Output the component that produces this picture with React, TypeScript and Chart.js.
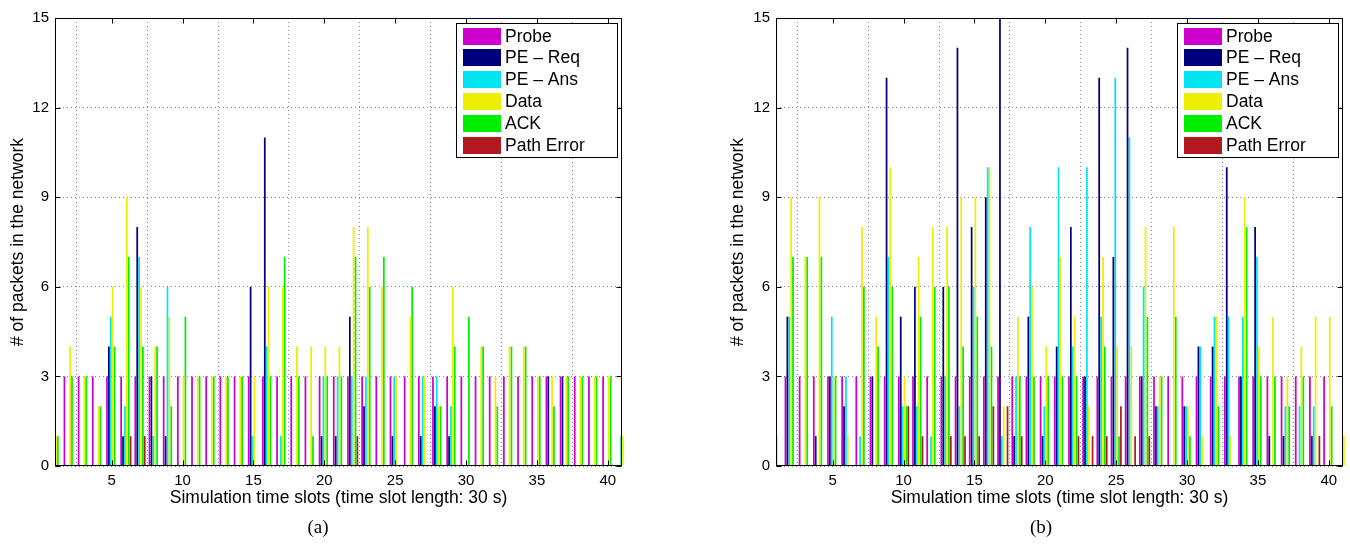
import React, { useEffect, useRef } from "react";
import { Chart, registerables } from "chart.js";

Chart.register(...registerables);

// ---------- data ----------
const SERIES_NAMES = ["Probe", "PE \u2013 Req", "PE \u2013 Ans", "Data", "ACK", "Path Error"];
const SERIES_COLORS = ["#cc00cc", "#00007f", "#00e5ef", "#eeee00", "#00ee00", "#b2191f"];

const SLOTS = [
  1, 2, 3, 4, 5, 6, 7, 8, 9, 10, 11, 12, 13, 14, 15, 16, 17, 18, 19, 20,
  21, 22, 23, 24, 25, 26, 27, 28, 29, 30, 31, 32, 33, 34, 35, 36, 37, 38, 39, 40, 41,
];
const X_TICKS = [5, 10, 15, 20, 25, 30, 35, 40];
const Y_TICKS = [0, 3, 6, 9, 12, 15];

// Panel (a)
const A_PROBE = [3, 3, 3, 3, 3, 3, 3, 3, 3, 3, 3, 3, 3, 3, 3, 3, 3, 3, 3, 3, 3, 3, 3, 3, 3, 3, 3, 3, 3, 3, 3, 3, 3, 3, 3, 3, 3, 3, 3, 3, 0];
const A_PE_REQ = [0, 0, 0, 0, 4, 1, 8, 3, 1, 0, 0, 0, 0, 0, 6, 11, 0, 0, 0, 1, 1, 5, 2, 0, 1, 0, 1, 2, 1, 0, 0, 0, 0, 0, 0, 3, 3, 0, 0, 0, 0];
const A_PE_ANS = [0, 0, 0, 0, 5, 2, 7, 1, 6, 0, 0, 0, 0, 0, 1, 4, 1, 0, 0, 3, 3, 3, 3, 0, 3, 0, 3, 3, 2, 0, 0, 0, 0, 0, 0, 0, 0, 0, 0, 0, 1];
const A_DATA = [1, 4, 3, 2, 6, 9, 6, 4, 5, 3, 3, 3, 3, 3, 3, 6, 6, 4, 4, 4, 4, 8, 8, 6, 3, 5, 3, 2, 6, 0, 4, 3, 4, 4, 3, 3, 3, 3, 3, 3, 1];
const A_ACK = [1, 3, 3, 2, 4, 7, 4, 4, 2, 5, 3, 3, 3, 3, 0, 3, 7, 3, 1, 3, 3, 7, 6, 7, 0, 6, 0, 2, 4, 5, 4, 2, 4, 4, 3, 2, 3, 3, 3, 3, 0];
const A_PATH_ERR = [0, 0, 0, 0, 0, 1, 1, 0, 0, 0, 0, 0, 0, 0, 0, 0, 0, 0, 0, 0, 0, 1, 0, 0, 0, 0, 0, 0, 0, 0, 0, 0, 0, 0, 0, 0, 0, 0, 0, 0, 0];

// Panel (b)
const B_PROBE = [3, 3, 3, 3, 3, 3, 3, 3, 3, 3, 3, 3, 3, 3, 3, 3, 3, 3, 3, 3, 3, 3, 3, 3, 3, 3, 3, 3, 3, 3, 3, 3, 3, 3, 3, 3, 3, 3, 3, 3, 0];
const B_PE_REQ = [0, 5, 0, 1, 3, 2, 0, 3, 13, 5, 6, 0, 6, 14, 8, 9, 15, 1, 5, 1, 4, 8, 3, 13, 7, 14, 3, 2, 0, 2, 4, 4, 10, 3, 8, 1, 1, 0, 1, 0, 0];
const B_PE_ANS = [2, 5, 0, 0, 5, 3, 1, 0, 7, 2, 2, 1, 3, 2, 6, 10, 1, 3, 8, 2, 10, 4, 10, 5, 13, 11, 6, 2, 0, 2, 4, 5, 5, 5, 7, 0, 2, 2, 2, 0, 0];
const B_DATA = [1, 9, 7, 9, 3, 1, 8, 5, 10, 3, 7, 8, 8, 9, 9, 10, 2, 5, 6, 4, 7, 5, 2, 7, 4, 4, 8, 3, 8, 2, 1, 5, 1, 9, 4, 5, 3, 4, 5, 5, 1];
const B_ACK = [0, 7, 7, 7, 3, 0, 6, 4, 6, 2, 5, 6, 6, 4, 5, 4, 0, 3, 3, 3, 3, 3, 0, 4, 1, 0, 5, 3, 5, 1, 0, 2, 0, 8, 3, 3, 2, 3, 0, 2, 0];
const B_PATH_ERR = [0, 0, 0, 0, 0, 0, 0, 0, 0, 2, 1, 0, 1, 1, 1, 2, 2, 1, 0, 0, 0, 1, 1, 1, 2, 1, 1, 0, 0, 0, 0, 0, 0, 0, 0, 0, 0, 0, 1, 0, 0];

const X_TITLE = "Simulation time slots (time slot length: 30 s)";
const Y_TITLE = "# of packets in the network";

// ---------- styling ----------
const SANS = '"Liberation Sans", Arial, Helvetica, sans-serif';
const SERIF = '"Liberation Serif", "Times New Roman", serif';

const boxPlugin = {
  id: "matlabBox",
  afterDatasetsDraw(chart: any) {
    const { ctx, chartArea: a, scales } = chart;
    const L = Math.round(a.left) + 0.5;
    const R = Math.round(a.right) - 0.5;
    const T = Math.round(a.top) + 0.5;
    const B = Math.round(a.bottom) - 0.5;
    ctx.save();
    ctx.strokeStyle = "#000";
    ctx.lineWidth = 1;
    ctx.setLineDash([]);
    ctx.strokeRect(L, T, R - L, B - T);
    ctx.beginPath();
    scales.x.ticks.forEach((t: any) => {
      const px = Math.round(scales.x.getPixelForValue(t.value)) + 0.5;
      ctx.moveTo(px, B);
      ctx.lineTo(px, B - 5);
      ctx.moveTo(px, T);
      ctx.lineTo(px, T + 5);
    });
    scales.y.ticks.forEach((t: any) => {
      const py = Math.round(scales.y.getPixelForValue(t.value)) + 0.5;
      ctx.moveTo(L, py);
      ctx.lineTo(L + 5, py);
      ctx.moveTo(R, py);
      ctx.lineTo(R - 5, py);
    });
    ctx.stroke();
    ctx.restore();
  },
};

const legendPlugin = {
  id: "matlabLegend",
  afterDraw(chart: any) {
    const { ctx, chartArea: a } = chart;
    const w = 161;
    const h = 134;
    const x0 = Math.round(a.right - 5 - w) + 0.5;
    const y0 = Math.round(a.top + 5) + 0.5;
    ctx.save();
    ctx.fillStyle = "#fff";
    ctx.fillRect(x0, y0, w, h);
    ctx.strokeStyle = "#000";
    ctx.lineWidth = 1;
    ctx.strokeRect(x0, y0, w, h);
    ctx.font = `17.5px ${SANS}`;
    ctx.textBaseline = "middle";
    ctx.textAlign = "left";
    chart.data.datasets.forEach((ds: any, i: number) => {
      const ry = Math.round(y0 + 4 + i * 21.9);
      ctx.fillStyle = ds.backgroundColor;
      ctx.fillRect(Math.round(x0 + 6), ry, 38, 17);
      ctx.fillStyle = "#000";
      ctx.fillText(ds.label, x0 + 48.5, ry + 9);
    });
    ctx.restore();
  },
};

type PanelProps = {
  left: number;
  width: number;
  yWidth: number;
  padRight: number;
  series: number[][];
};

function Panel({ left, width, yWidth, padRight, series }: PanelProps) {
  const ref = useRef<HTMLCanvasElement>(null);
  useEffect(() => {
    if (!ref.current) return;
    const chart = new Chart(ref.current, {
      type: "bar",
      data: {
        datasets: series.map((vals, si) => ({
          label: SERIES_NAMES[si],
          data: SLOTS.map((x, i) => ({ x, y: vals[i] })),
          backgroundColor: SERIES_COLORS[si],
          borderWidth: 0,
          categoryPercentage: 0.8,
          barPercentage: 0.92,
          clip: { left: 0, top: 0, right: 3, bottom: 0 },
        })),
      },
      options: {
        responsive: false,
        animation: false,
        devicePixelRatio: 1,
        layout: { padding: { top: 18, right: padRight, left: 0, bottom: 0 } },
        plugins: { legend: { display: false }, tooltip: { enabled: false } },
        scales: {
          x: {
            type: "linear",
            min: 1,
            max: 41,
            offset: false,
            afterBuildTicks: (s: any) => {
              s.ticks = X_TICKS.map((v) => ({ value: v }));
            },
            afterFit: (s: any) => {
              s.height = 80;
            },
            grid: { color: "#8a8a8a", drawTicks: false, lineWidth: 1 },
            border: { display: false, dash: [1, 3] },
            ticks: {
              font: { family: SANS, size: 15 },
              color: "#000",
              padding: 6,
              maxRotation: 0,
              autoSkip: false,
            },
            title: {
              display: true,
              text: X_TITLE,
              color: "#000",
              font: { family: SANS, size: 17.5 },
              padding: { top: 0, bottom: 37 },
            },
          },
          y: {
            type: "linear",
            min: 0,
            max: 15,
            afterBuildTicks: (s: any) => {
              s.ticks = Y_TICKS.map((v) => ({ value: v }));
            },
            afterFit: (s: any) => {
              s.width = yWidth;
            },
            grid: { color: "#8a8a8a", drawTicks: false, lineWidth: 1 },
            border: { display: false, dash: [1, 3] },
            ticks: {
              font: { family: SANS, size: 15 },
              color: "#000",
              padding: 6,
            },
            title: {
              display: true,
              text: Y_TITLE,
              color: "#000",
              font: { family: SANS, size: 17.5 },
              padding: { top: 7.5, bottom: 0 },
            },
          },
        },
      },
      plugins: [boxPlugin, legendPlugin],
    } as any);
    return () => chart.destroy();
  }, []);
  return (
    <canvas
      ref={ref}
      width={width}
      height={546}
      style={{ position: "absolute", left, top: 0, width, height: 546 }}
    />
  );
}

export default function App() {
  const seriesA = [A_PROBE, A_PE_REQ, A_PE_ANS, A_DATA, A_ACK, A_PATH_ERR];
  const seriesB = [B_PROBE, B_PE_REQ, B_PE_ANS, B_DATA, B_ACK, B_PATH_ERR];
  const capStyle = (cx: number): React.CSSProperties => ({
    position: "absolute",
    left: cx - 50,
    width: 100,
    top: 517,
    lineHeight: "20px",
    textAlign: "center",
    fontFamily: SERIF,
    fontSize: 19,
    color: "#000",
  });
  return (
    <div
      style={{
        position: "absolute",
        left: 0,
        top: 0,
        width: 1350,
        height: 546,
        background: "#fff",
        overflow: "hidden",
      }}
    >
      <Panel left={0} width={660} yWidth={55} padRight={38} series={seriesA} />
      <Panel left={720} width={630} yWidth={56} padRight={7} series={seriesB} />
      <div style={capStyle(318)}>(a)</div>
      <div style={capStyle(1041)}>(b)</div>
    </div>
  );
}
